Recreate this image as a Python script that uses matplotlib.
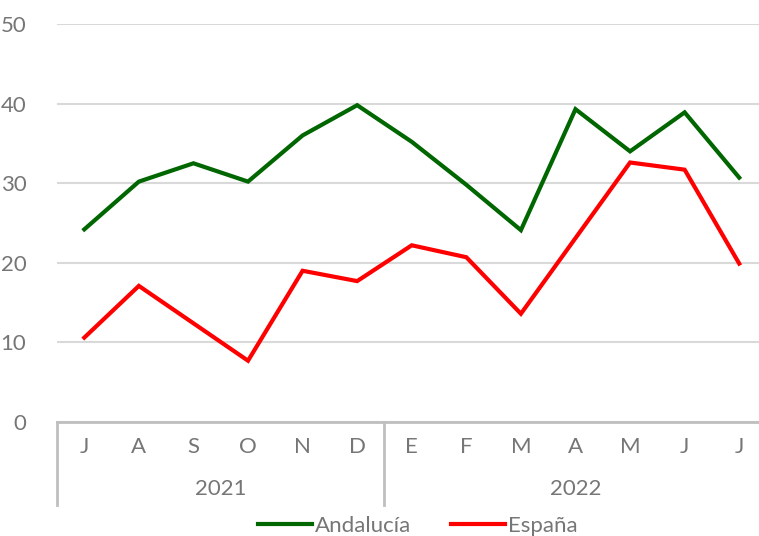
import matplotlib
matplotlib.use("Agg")
import matplotlib.pyplot as plt

plt.rcParams['font.family'] = ['Lato', 'DejaVu Sans']

meses = ["J", "A", "S", "O", "N", "D", "E", "F", "M", "A", "M", "J", "J"]
anios = ["2021", "2022"]
meses_por_anio = [6, 7]
andalucia = [24.2, 30.2, 32.5, 30.2, 36.0, 39.8, 35.2, 29.8, 24.1, 39.3, 34.0, 38.9, 30.7]
espana = [10.6, 17.1, 12.4, 7.7, 19.0, 17.7, 22.2, 20.7, 13.6, 23.1, 32.6, 31.7, 19.9]

gris_txt = "#767676"
gris_eje = "#bfbfbf"
fs = 16

fig = plt.figure(figsize=(7.59, 5.36), dpi=100)
ax = fig.add_axes([57 / 759, 1 - 422 / 536, (766.5 - 57) / 759, (422 - 24) / 536])

x = list(range(len(meses)))
ax.plot(x, andalucia, color="#006600", lw=3, label="Andalucía", solid_joinstyle="miter")
ax.plot(x, espana, color="#ff0000", lw=3, label="España", solid_joinstyle="miter")

ax.set_xlim(-0.5, len(meses) - 0.5)
ax.set_ylim(0, 50)
ax.set_yticks([0, 10, 20, 30, 40, 50])
ax.tick_params(axis="y", length=0, pad=22, labelsize=fs, labelcolor=gris_txt)
ax.set_xticks([])
ax.grid(axis="y", color="#d9d9d9", lw=1.5)
ax.set_axisbelow(True)
for s in ["top", "right", "left"]:
    ax.spines[s].set_visible(False)
ax.spines["bottom"].set_color(gris_eje)
ax.spines["bottom"].set_linewidth(2)

# etiquetas de categorias (dos niveles)
tr = ax.get_xaxis_transform()
alto = 422 - 24
for i, m in enumerate(meses):
    ax.text(i, -(447 - 422) / alto, m, transform=tr, ha="center", va="center",
            fontsize=fs, color=gris_txt)
inicio = 0
for anio, n in zip(anios, meses_por_anio):
    centro = inicio + (n - 1) / 2
    ax.text(centro, -(489 - 422) / alto, anio, transform=tr, ha="center", va="center",
            fontsize=fs, color=gris_txt)
    inicio += n
limites = [-0.5]
acc = -0.5
for n in meses_por_anio:
    acc += n
    limites.append(acc)
for b in limites:
    ax.plot([b, b], [0, -(505 - 422) / alto], transform=tr, color=gris_eje, lw=2,
            clip_on=False)

fig.legend(loc="center", bbox_to_anchor=(418 / 759, 1 - 526 / 536), ncol=2, frameon=False,
           fontsize=fs, labelcolor=gris_txt, handlelength=2.4, handletextpad=0.15,
           columnspacing=1.8)

fig.savefig("out.png", dpi=100)
